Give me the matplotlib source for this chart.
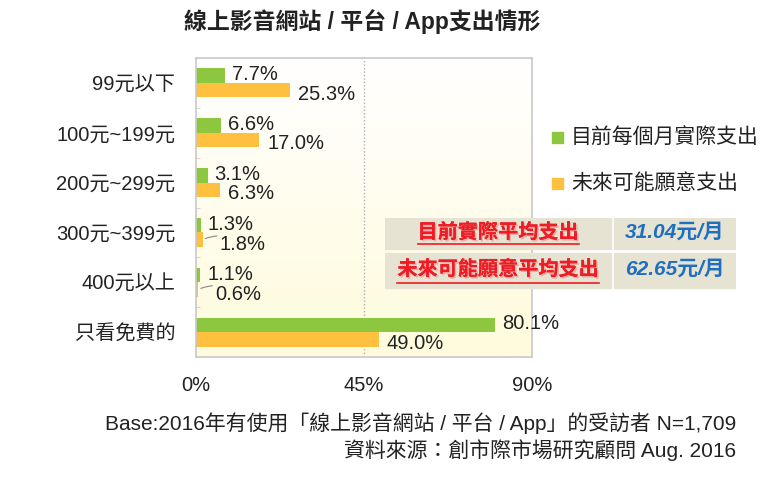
import numpy as np
import matplotlib
matplotlib.use("Agg")
import matplotlib.pyplot as plt
from matplotlib.patches import Rectangle
from matplotlib.colors import LinearSegmentedColormap
import matplotlib.patheffects as pe

plt.rcParams['font.family'] = ['Liberation Sans', 'Noto Sans CJK TC', 'DejaVu Sans']

categories = ["99元以下", "100元~199元", "200元~299元", "300元~399元", "400元以上", "只看免費的"]
current = [7.7, 6.6, 3.1, 1.3, 1.1, 80.1]
future = [25.3, 17.0, 6.3, 1.8, 0.6, 49.0]
series_names = ["目前每個月實際支出", "未來可能願意支出"]
xticks = [0, 45, 90]
xtick_labels = ["0%", "45%", "90%"]
table_rows = [("目前實際平均支出", "31.04元/月"), ("未來可能願意平均支出", "62.65元/月")]
title = "線上影音網站 / 平台 / App支出情形"
footer1 = "Base:2016年有使用「線上影音網站 / 平台 / App」的受訪者 N=1,709"
footer2 = "資料來源：創市際市場研究顧問 Aug. 2016"

GREEN = "#8dc63f"
ORANGE = "#fdc13f"
TXT = "#222222"
FS = 14.5

fig = plt.figure(figsize=(7.81, 4.80), dpi=100)
W, H = 781, 480
ax = fig.add_axes([196 / W, 1 - 357 / H, 336 / W, 299 / H])

n = len(categories)
y = np.arange(n)
bh = 0.29

# gradient background
grad = np.linspace(0, 1, 100).reshape(-1, 1)
cmap = LinearSegmentedColormap.from_list("bg", ["#ffffff", "#fffbdc"])
ax.imshow(grad, aspect='auto', cmap=cmap, extent=[0, 90, n - 0.5, -0.5], zorder=0)

ax.barh(y - bh / 2, current, height=bh, color=GREEN, zorder=2)
ax.barh(y + bh / 2, future, height=bh, color=ORANGE, zorder=2)

ax.axvline(45, color="#b0b0b0", linestyle=(0, (1, 1.5)), linewidth=1, zorder=1)

for i in range(n):
    c, f = current[i], future[i]
    ax.annotate(f"{c:.1f}%", (c, y[i] - bh / 2), xytext=(7, 1), textcoords='offset pixels',
                ha='left', va='center', fontsize=FS, color=TXT, zorder=3)
    if f < 3:
        ax.annotate(f"{f:.1f}%", (f, y[i] + bh / 2), xytext=(17, -5), textcoords='offset pixels',
                    ha='left', va='center', fontsize=FS, color=TXT, zorder=3,
                    arrowprops=dict(arrowstyle='-', color="#888888", lw=0.8,
                                    connectionstyle="arc3,rad=0.3", shrinkA=0, shrinkB=2))
    else:
        ax.annotate(f"{f:.1f}%", (f, y[i] + bh / 2), xytext=(8, -4), textcoords='offset pixels',
                    ha='left', va='center', fontsize=FS, color=TXT, zorder=3)

ax.set_xlim(0, 90)
ax.set_ylim(n - 0.5, -0.5)
ax.set_xticks(xticks)
ax.set_xticklabels(xtick_labels, fontsize=FS, color=TXT)
ax.set_yticks(y)
ax.set_yticklabels(categories, fontsize=FS, color=TXT)
ax.set_yticks(np.arange(n - 1) + 0.5, minor=True)
ax.tick_params(axis='y', which='major', length=0, pad=15)
ax.tick_params(axis='y', which='minor', length=3, color="#cccccc", direction='in')
ax.tick_params(axis='x', length=0, pad=14)
for s in ax.spines.values():
    s.set_color("#c8c8c8")
    s.set_linewidth(1.2)

# title
fig.text(362 / W, 1 - 22 / H, title, ha='center', va='center', fontsize=16.5,
         fontweight='bold', color="#222222")

# legend
for k, (name, col) in enumerate(zip(series_names, [GREEN, ORANGE])):
    yy = 137 + 46 * k
    fig.patches.append(Rectangle((552 / W, 1 - (yy + 6) / H), 11 / W, 11 / H,
                                 transform=fig.transFigure, color=col))
    fig.text(571 / W, 1 - yy / H, name, ha='left', va='center', fontsize=15, color=TXT)

# table
tax = fig.add_axes([385 / W, 1 - 290 / H, 351 / W, 72 / H])
tax.set_xlim(0, 351)
tax.set_ylim(72, 0)
tax.axis('off')
rows_y = [(0, 31), (35, 70)]
for (y0, y1), (lab, val) in zip(rows_y, table_rows):
    tax.add_patch(Rectangle((0, y0), 226, y1 - y0, color="#e6e3d2"))
    tax.add_patch(Rectangle((229, y0), 122, y1 - y0, color="#e6e3d2"))
    t = tax.text(113, (y0 + y1) / 2 - 1, lab, ha='center', va='center', fontsize=14.5,
                 fontweight='bold', color="#ee1c25", style='italic',
                 path_effects=[pe.withSimplePatchShadow(offset=(1.2, -1.2), shadow_rgbFace="#f08080", alpha=0.5),
                               pe.Normal()])
    fig.canvas.draw()
    bb = t.get_window_extent().transformed(tax.transData.inverted())
    tax.plot([bb.x0, bb.x1], [y1 - 5, y1 - 5], color="#ee1c25", lw=1.2)
    tax.text(290, (y0 + y1) / 2 - 1, val, ha='center', va='center', fontsize=15,
             fontweight='bold', color="#1f6fc0", style='italic')

# footer
fig.text(736 / W, 1 - 423 / H, footer1, ha='right', va='center', fontsize=15, color=TXT)
fig.text(736 / W, 1 - 450 / H, footer2, ha='right', va='center', fontsize=15, color=TXT)

fig.savefig("out.png", dpi=100)
